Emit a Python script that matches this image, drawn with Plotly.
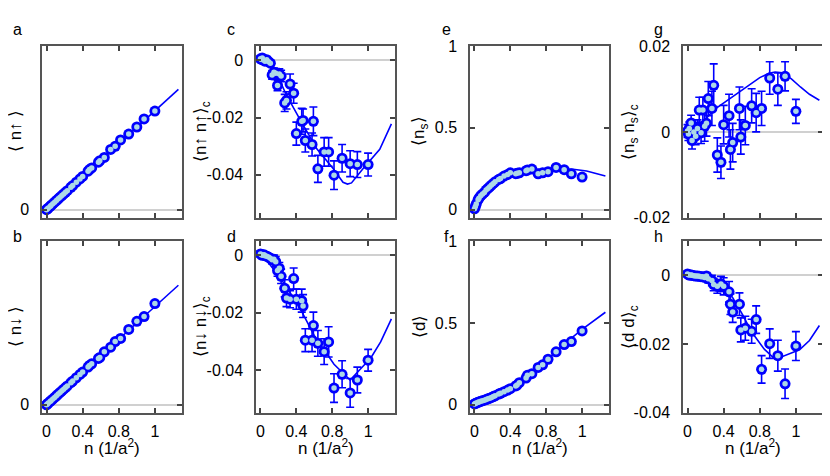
import plotly.graph_objects as go
from plotly.subplots import make_subplots

# density of each measurement (1/a^2), shared by all panels
n = [0.00, 0.01, 0.02, 0.04, 0.05, 0.07, 0.09, 0.11, 0.13, 0.15, 0.17, 0.19,
     0.21, 0.23, 0.27, 0.29, 0.33, 0.37, 0.40, 0.46, 0.475, 0.50, 0.575, 0.59,
     0.64, 0.71, 0.76, 0.82, 0.91, 1.00, 1.08, 1.20]

# single site densities
n_up = [0.0, 0.005, 0.01, 0.02, 0.026, 0.036, 0.046, 0.056, 0.066, 0.076, 0.086, 0.096,
        0.106, 0.116, 0.137, 0.147, 0.168, 0.188, 0.203, 0.235, 0.245, 0.255, 0.29, 0.299,
        0.319, 0.368, 0.387, 0.426, 0.462, 0.505, 0.554, 0.602]
n_dn = [0.0, 0.005, 0.01, 0.02, 0.025, 0.035, 0.045, 0.055, 0.065, 0.075, 0.085, 0.095,
        0.105, 0.115, 0.135, 0.145, 0.165, 0.185, 0.2, 0.23, 0.24, 0.25, 0.283, 0.289,
        0.323, 0.352, 0.386, 0.405, 0.46, 0.51, 0.539, 0.618]
n_s = [0.005, 0.02, 0.035, 0.06, 0.07, 0.085, 0.095, 0.105, 0.12, 0.13, 0.14, 0.15,
       0.16, 0.17, 0.185, 0.19, 0.205, 0.215, 0.225, 0.22, 0.222, 0.225, 0.238, 0.242,
       0.248, 0.219, 0.225, 0.232, 0.258, 0.244, 0.219, 0.199]
dbl = [0.005, 0.008, 0.01, 0.015, 0.017, 0.021, 0.025, 0.028, 0.032, 0.036, 0.04, 0.045,
       0.05, 0.055, 0.065, 0.07, 0.08, 0.09, 0.098, 0.115, 0.12, 0.135, 0.163, 0.18,
       0.19, 0.228, 0.244, 0.278, 0.323, 0.368, 0.386, 0.451]

# connected correlators and errors
upup = [0.0005, 0.0003, 0.0008, 0.0, -0.0003, 0.0002, -0.0005, -0.001, -0.0051, -0.0042,
        -0.0045, -0.0088, -0.0048, -0.0055, -0.0149, -0.014, -0.0083, -0.0115, -0.0256,
        -0.0213, -0.021, -0.028, -0.0294, -0.0213, -0.0379, -0.032, -0.032, -0.0401,
        -0.0342, -0.0361, -0.0364, -0.0364]
upup_err = [0.0008, 0.0008, 0.0008, 0.0008, 0.0008, 0.0009, 0.001, 0.001, 0.0015, 0.0015,
            0.0016, 0.0018, 0.0018, 0.002, 0.003, 0.003, 0.0035, 0.0035, 0.004, 0.0045,
            0.004, 0.004, 0.004, 0.005, 0.0047, 0.005, 0.005, 0.005, 0.0048, 0.0045,
            0.0045, 0.004]
dndn = [0.0005, 0.0003, 0.0, 0.0002, -0.0001, -0.0003, -0.0006, -0.001, -0.0015, -0.0014,
        -0.0022, -0.0053, -0.0045, -0.0073, -0.0115, -0.0149, -0.0153, -0.0081, -0.0153,
        -0.0158, -0.0177, -0.0296, -0.0296, -0.0245, -0.0307, -0.0336, -0.0302, -0.0463,
        -0.0415, -0.048, -0.0435, -0.0366]
dndn_err = [0.0008, 0.0008, 0.0008, 0.0008, 0.0008, 0.0008, 0.0008, 0.0008, 0.0015, 0.0015,
            0.0018, 0.002, 0.002, 0.0025, 0.003, 0.003, 0.003, 0.0037, 0.0035, 0.004,
            0.004, 0.004, 0.004, 0.0047, 0.0045, 0.0045, 0.0053, 0.005, 0.0047, 0.005,
            0.0045, 0.0038]
nsns = [0.0002, -0.0005, 0.0008, 0.0021, -0.002, 0.0, -0.001, 0.0008, 0.0051, -0.0002,
        0.0051, 0.0013, 0.002, 0.0078, 0.0055, 0.0109, -0.0054, -0.0071, 0.0017, 0.0038,
        -0.0041, -0.0025, 0.0055, -0.0012, 0.0015, 0.0061, 0.0045, 0.0055, 0.0126, 0.010,
        0.013, 0.0048]
nsns_err = [0.0015, 0.0015, 0.0015, 0.0018, 0.002, 0.002, 0.002, 0.002, 0.003, 0.0025,
            0.003, 0.0035, 0.003, 0.004, 0.004, 0.005, 0.004, 0.0038, 0.0045, 0.005,
            0.0046, 0.0045, 0.005, 0.004, 0.0045, 0.004, 0.0045, 0.004, 0.0038, 0.0038,
            0.0034, 0.0028]
dd = [0.0004, 0.0002, 0.0001, 0.0001, 0.0, -0.0001, -0.0002, -0.0002, -0.0003, -0.0004,
      -0.0004, -0.0006, -0.0002, -0.001, -0.0015, -0.0027, -0.0032, -0.0025, -0.0032,
      -0.0048, -0.0084, -0.0107, -0.0084, -0.0159, -0.0154, -0.0163, -0.0129, -0.0274,
      -0.0199, -0.0234, -0.0316, -0.0206]
dd_err = [0.0005, 0.0005, 0.0005, 0.0005, 0.0005, 0.0005, 0.0005, 0.0005, 0.0008, 0.0008,
          0.001, 0.001, 0.001, 0.0012, 0.0015, 0.0018, 0.002, 0.0022, 0.0025, 0.003,
          0.003, 0.003, 0.0033, 0.0035, 0.0035, 0.0035, 0.004, 0.004, 0.0043, 0.0045,
          0.0043, 0.0042]

# theory curves
lin_n = [0, 0.4, 0.8, 1.2, 1.46]
up_th = [0, 0.2, 0.4, 0.6, 0.735]
dn_th = [0, 0.2, 0.4, 0.6, 0.73]
ns_n = [0, 0.05, 0.1, 0.2, 0.3, 0.4, 0.5, 0.7, 0.9, 1.1, 1.25, 1.46]
ns_th = [0, 0.05, 0.09, 0.15, 0.19, 0.215, 0.23, 0.245, 0.25, 0.247, 0.236, 0.205]
d_n = [0, 0.2, 0.4, 0.6, 0.8, 1.0, 1.2, 1.46]
d_th = [0, 0.045, 0.1, 0.175, 0.27, 0.37, 0.46, 0.565]
upup_n = [0, 0.1, 0.2, 0.29, 0.44, 0.63, 0.81, 0.92, 0.97, 1.015, 1.145, 1.33, 1.46]
upup_th = [0, -0.002, -0.006, -0.0122, -0.0206, -0.031, -0.0378, -0.0426, -0.0432, -0.0428,
           -0.0378, -0.0311, -0.0222]
dndn_n = [0, 0.1, 0.2, 0.3, 0.45, 0.6, 0.82, 0.97, 1.0, 1.12, 1.23, 1.34, 1.46]
dndn_th = [0, -0.003, -0.007, -0.0115, -0.019, -0.028, -0.038, -0.0426, -0.0435, -0.0395,
           -0.0358, -0.0302, -0.0222]
nsns_n = [0, 0.1, 0.2, 0.3, 0.4, 0.5, 0.6, 0.7, 0.8, 0.9, 0.97, 1.05, 1.15, 1.25, 1.35, 1.46]
nsns_th = [0, 0.0015, 0.003, 0.0053, 0.0068, 0.0082, 0.0098, 0.0113, 0.0127, 0.0137, 0.014,
           0.0138, 0.0124, 0.0105, 0.0088, 0.0074]
dd_n = [0, 0.2, 0.3, 0.4, 0.5, 0.6, 0.71, 0.85, 0.97, 1.1, 1.24, 1.35, 1.46]
dd_th = [0, -0.0005, -0.0015, -0.003, -0.0065, -0.011, -0.0165, -0.0215, -0.0245, -0.0232,
         -0.0217, -0.019, -0.0146]

x_ticks = [0, 0.4, 0.8, 1.2]
x_ticktext = ["0", "0.4", "0.8", "1"]

FONT = "Liberation Sans, Arial, sans-serif"
BLUE = "#0000ff"
FILL = "#add8e6"

# (row, col, letter, y, err, line x, line y, y range, tickvals, ticktext, title)
panels = [
    (1, 1, "a", n_up, None, lin_n, up_th, [-0.05, 1.0], [0], ["0"], "⟨ n↑ ⟩"),
    (2, 1, "b", n_dn, None, lin_n, dn_th, [-0.05, 1.0], [0], ["0"], "⟨ n↓ ⟩"),
    (1, 2, "c", upup, upup_err, upup_n, upup_th, [-0.055, 0.005], [0, -0.02, -0.04],
     ["0", "-0.02", "-0.04"], "⟨n↑ n↑⟩<sub>c</sub>"),
    (2, 2, "d", dndn, dndn_err, dndn_n, dndn_th, [-0.055, 0.005], [0, -0.02, -0.04],
     ["0", "-0.02", "-0.04"], "⟨n↓ n↓⟩<sub>c</sub>"),
    (1, 3, "e", n_s, None, ns_n, ns_th, [-0.05, 1.0], [0, 0.5, 1], ["0", "0.5", "1"],
     "⟨n<sub>s</sub>⟩"),
    (2, 3, "f", dbl, None, d_n, d_th, [-0.05, 1.0], [0, 0.5, 1], ["0", "0.5", "1"], "⟨d⟩"),
    (1, 4, "g", nsns, nsns_err, nsns_n, nsns_th, [-0.0201, 0.0201], [-0.02, 0, 0.02],
     ["-0.02", "0", "0.02"], "⟨n<sub>s</sub> n<sub>s</sub>⟩<sub>c</sub>"),
    (2, 4, "h", dd, dd_err, dd_n, dd_th, [-0.0401, 0.01], [0, -0.02, -0.04],
     ["0", "-0.02", "-0.04"], "⟨d d⟩<sub>c</sub>"),
]

# the page body has an 8px margin, so the figure is laid out in page pixels minus 8
OFF = 8
W, H = 830 - OFF, 476 - OFF
col_px = {1: (42, 182), 2: (256, 395), 3: (470, 609), 4: (683, 823)}
row_px = {1: (39, 217), 2: (241, 419)}
title_x = {1: 16, 2: 202, 3: 420, 4: 630}
letter_x = {1: 17, 2: 231, 3: 446, 4: 658}
letter_y = {1: 22, 2: 236}


def px_x(p):
    return (p - OFF) / W


def px_y(p):
    return (H - (p - OFF)) / H


fig = make_subplots(rows=2, cols=4)

for row, col, letter, yv, err, lx, ly, yr, tv, tt, title in panels:
    # theory line
    fig.add_trace(go.Scatter(x=lx, y=ly, mode="lines",
                             line=dict(color=BLUE, width=1.6), showlegend=False),
                  row=row, col=col)
    # outline markers with error bars
    ebar = None
    if err is not None:
        ebar = dict(type="data", array=err, visible=True, color=BLUE,
                    thickness=1.6, width=4)
    fig.add_trace(go.Scatter(x=n, y=yv, mode="markers", error_y=ebar,
                             marker=dict(size=11, color=BLUE), showlegend=False),
                  row=row, col=col)
    # light fill on top
    fig.add_trace(go.Scatter(x=n, y=yv, mode="markers",
                             marker=dict(size=5.5, color=FILL), showlegend=False),
                  row=row, col=col)

    x0, x1 = col_px[col]
    y0, y1 = row_px[row]
    fig.update_xaxes(domain=[px_x(x0), min(px_x(x1), 1)], range=[-0.05, 1.5],
                     tickvals=x_ticks, ticktext=x_ticktext,
                     showticklabels=(row == 2), row=row, col=col)
    fig.update_yaxes(domain=[px_y(y1), px_y(y0)], range=yr,
                     tickvals=tv, ticktext=tt, zeroline=True,
                     zerolinecolor="#d0d0d0", zerolinewidth=1.5, row=row, col=col)

    # panel letter
    fig.add_annotation(text=letter, x=px_x(letter_x[col]), y=px_y(letter_y[row]),
                       xref="paper", yref="paper", showarrow=False,
                       xanchor="center", yanchor="middle",
                       font=dict(size=16, family=FONT, color="black"))
    # y title
    fig.add_annotation(text=title, x=px_x(title_x[col]), y=px_y((y0 + y1) / 2),
                       xref="paper", yref="paper", showarrow=False, textangle=-90,
                       xanchor="center", yanchor="middle",
                       font=dict(size=17, family=FONT, color="black"))
    if row == 2:
        fig.add_annotation(text="n (1/a<sup>2</sup>)", x=px_x((x0 + x1) / 2), y=px_y(454),
                           xref="paper", yref="paper", showarrow=False,
                           xanchor="center", yanchor="middle",
                           font=dict(size=17, family=FONT, color="black"))

fig.update_xaxes(showline=True, linecolor="#555", linewidth=1.5, mirror="allticks",
                 ticks="inside", ticklen=5, tickwidth=1.5, tickcolor="#444",
                 showgrid=False, zeroline=False, ticklabelstandoff=3,
                 tickfont=dict(size=16, family=FONT, color="black"))
fig.update_yaxes(showline=True, linecolor="#555", linewidth=1.5, mirror="allticks",
                 ticks="inside", ticklen=5, tickwidth=1.5, tickcolor="#444",
                 showgrid=False, ticklabelstandoff=8,
                 tickfont=dict(size=16, family=FONT, color="black"))

fig.update_layout(width=W, height=H, margin=dict(l=0, r=0, t=0, b=0),
                  plot_bgcolor="white", paper_bgcolor="white", showlegend=False)

fig.write_html("out.html")
